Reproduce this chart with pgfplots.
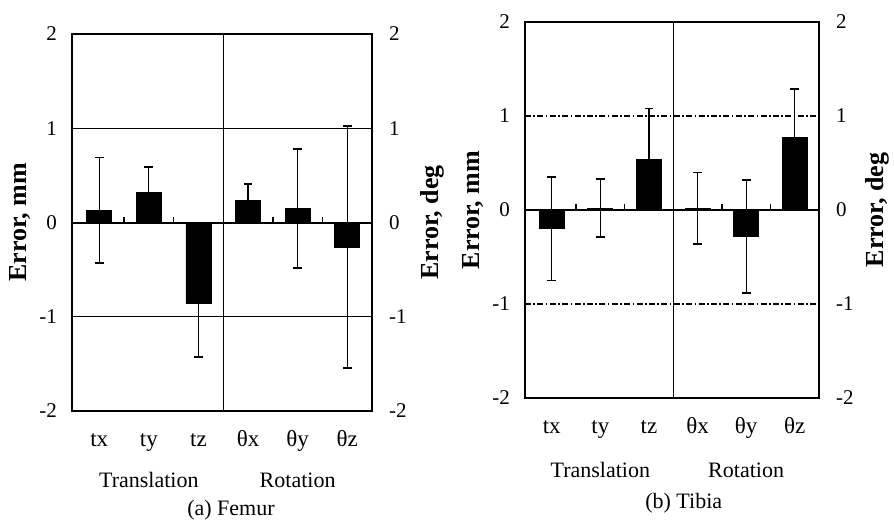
\documentclass[border=0pt]{standalone}
\usepackage{fontspec}
\setmainfont{Liberation Serif}
\usepackage{pgfplots}
\pgfplotsset{compat=1.18}

\pgfplotsset{
  errpanel/.style={
    scale only axis,
    anchor=south west,
    xmin=0.45, xmax=6.5,
    ymin=-2, ymax=2,
    ytick={-2,-1,0,1,2},
    xtick={1,2,3,4,5,6},
    xticklabels={tx,ty,tz,θx,θy,θz},
    major tick length=0pt,
    axis line style={line width=1pt},
    ticklabel style={font=\fontsize{10.5}{12}\selectfont},
    xticklabel style={yshift=-7pt, font=\fontsize{11.5}{13}\selectfont, text height=1.6ex, text depth=0.3ex},
    yticklabel style={xshift=-4pt},
    /pgf/number format/assume math mode=true,
    ymajorgrids,
    ylabel style={anchor=center, font=\bfseries\fontsize{13}{15}\selectfont},
    clip=false,
  },
  rightpanel/.style={
    scale only axis,
    anchor=south west,
    axis x line=none,
    axis y line*=right,
    xmin=0.45, xmax=6.5,
    ymin=-2, ymax=2,
    ytick={-2,-1,0,1,2},
    major tick length=0pt,
    axis line style={line width=1pt},
    ticklabel style={font=\fontsize{10.5}{12}\selectfont},
    yticklabel style={xshift=5pt},
    /pgf/number format/assume math mode=true,
    ylabel style={anchor=center, font=\bfseries\fontsize{13}{15}\selectfont},
  },
  errbars/.style={
    ybar, bar width=12.5pt, fill=black, draw=black, mark=none,
    error bars/.cd, y dir=both, y explicit,
    error bar style={line width=0.6pt, black},
    error mark options={rotate=90, black, mark size=2.2pt, line width=0.9pt},
  },
}

\begin{document}
\begin{tikzpicture}
\useasboundingbox (0,0) rectangle (447pt,265pt);

% (a) Femur
\begin{axis}[errpanel, at={(36pt,59.5pt)}, width=150pt, height=188.5pt,
  grid style={black, line width=0.6pt},
  ylabel={Error, mm}, ylabel style={at={(axis description cs:-0.173,0.5)}}]
\addplot[errbars] coordinates {
  (1,0.13) +- (0,0.56)
  (2,0.32) +- (0,0.27)
  (3,-0.86) +- (0,0.57)
  (4,0.23) +- (0,0.18)
  (5,0.15) +- (0,0.63)
  (6,-0.26) +- (0,1.28)
};
\addplot[ycomb, black, line width=0.8pt, mark=none] coordinates {(1.5,0.06) (2.5,0.06) (4.5,0.06) (5.5,0.06)};
\draw[line width=0.7pt] (axis cs:3.5,-2) -- (axis cs:3.5,2);
\draw[line width=1pt] (axis cs:0.45,0) -- (axis cs:6.5,0);
\node[font=\fontsize{11}{13}\selectfont, yshift=-34.5pt] at (axis cs:2,-2) {Translation};
\node[font=\fontsize{11}{13}\selectfont, yshift=-34.5pt] at (axis cs:5,-2) {Rotation};
\node[font=\fontsize{11}{13}\selectfont, yshift=-49.5pt] at (axis description cs:0.53,0) {(a) Femur};
\end{axis}
\begin{axis}[rightpanel, at={(36pt,59.5pt)}, width=150pt, height=188.5pt,
  ylabel={Error, deg}, ylabel style={at={(axis description cs:1.2,0.5)}}]
\end{axis}

% (b) Tibia
\begin{axis}[errpanel, at={(262.5pt,66pt)}, width=147pt, height=188pt,
  grid style={black, line width=0.6pt, dash pattern=on 3pt off 1.2pt on 0.8pt off 1.2pt},
  ylabel={Error, mm}, ylabel style={at={(axis description cs:-0.177,0.5)}}]
\addplot[errbars] coordinates {
  (1,-0.20) +- (0,0.55)
  (2,0.02) +- (0,0.31)
  (3,0.54) +- (0,0.54)
  (4,0.02) +- (0,0.38)
  (5,-0.28) +- (0,0.60)
  (6,0.77) +- (0,0.52)
};
\addplot[ycomb, black, line width=0.8pt, mark=none] coordinates {(1.5,0.06) (2.5,0.06) (4.5,0.06) (5.5,0.06)};
\draw[line width=0.7pt] (axis cs:3.5,-2) -- (axis cs:3.5,2);
\draw[line width=1pt] (axis cs:0.45,0) -- (axis cs:6.5,0);
\node[font=\fontsize{11}{13}\selectfont, yshift=-36pt] at (axis cs:2,-2) {Translation};
\node[font=\fontsize{11}{13}\selectfont, yshift=-36pt] at (axis cs:5,-2) {Rotation};
\node[font=\fontsize{11}{13}\selectfont, yshift=-52.5pt] at (axis description cs:0.54,0) {(b) Tibia};
\end{axis}
\begin{axis}[rightpanel, at={(262.5pt,66pt)}, width=147pt, height=188pt,
  ylabel={Error, deg}, ylabel style={at={(axis description cs:1.197,0.5)}}]
\end{axis}
\end{tikzpicture}
\end{document}
